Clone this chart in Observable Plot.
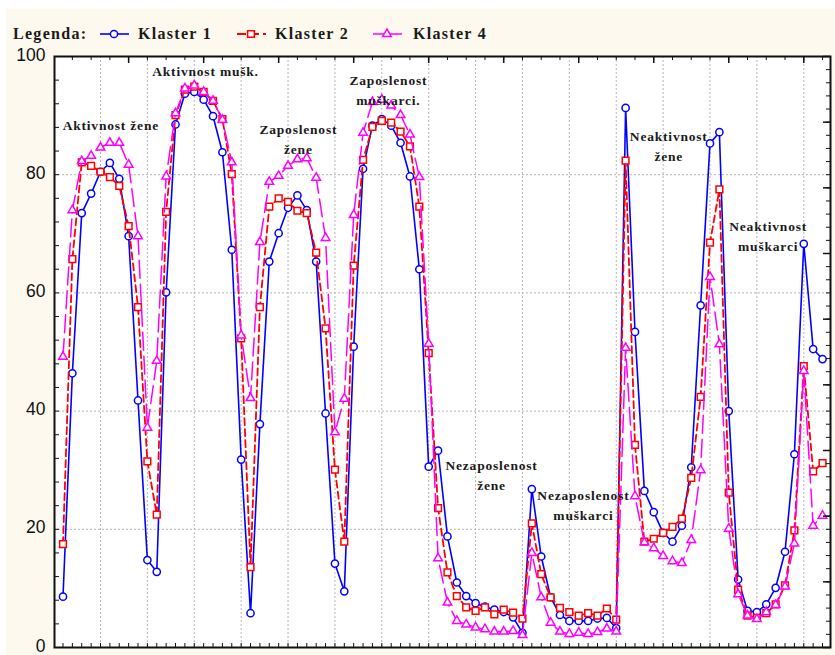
<!DOCTYPE html>
<html><head><meta charset="utf-8">
<script src="https://cdn.jsdelivr.net/npm/d3@7"></script>
<script src="https://cdn.jsdelivr.net/npm/@observablehq/plot@0.6"></script>
<style>
body{margin:0;background:#fff;}
#wrap{position:relative;width:835px;height:655px;overflow:hidden;}
#panel{position:absolute;left:6px;top:9px;width:829px;height:646px;background:#fdf9ee;}
.lg{position:absolute;font-family:"Liberation Serif","Times New Roman",serif;font-weight:bold;font-size:16px;line-height:16px;letter-spacing:1.3px;color:#1a1a1a;white-space:nowrap;}
.sw{position:absolute;}
#chart{position:absolute;left:0;top:45px;}
#chart g[aria-label="text"] text{letter-spacing:0.8px;}
</style></head>
<body>
<div id="wrap">
  <div id="panel"></div>
  <div id="legend"></div>
  <div id="chart"></div>
</div>
<script>
// ---- data ----
const cases = d3.range(1, 83); // case numbers 1..82
const klaster1 = [8.6,46.4,73.5,76.8,80.5,82.0,79.3,69.6,41.8,14.8,
  12.8,60.1,88.5,93.7,94.0,92.7,89.9,83.8,67.3,31.8,
  5.8,37.8,65.3,70.1,74.4,76.5,74.0,65.3,39.6,14.2,
  9.5,50.9,81.0,88.3,89.4,88.3,85.4,79.7,64.0,30.6,
  33.3,18.8,11.0,8.7,7.5,6.9,6.4,6.0,5.1,2.5,
  26.8,15.4,8.5,5.5,4.5,4.5,4.5,4.9,5.0,3.3,
  91.3,53.4,26.5,22.9,19.4,17.9,20.6,30.5,57.9,85.3,
  87.2,40.0,11.5,6.2,6.0,7.3,10.1,16.2,32.7,68.3,
  50.5,48.8];
const klaster2 = [17.5,65.7,82.1,81.5,80.5,79.6,78.1,71.3,57.6,31.5,
  22.5,73.7,90.1,94.4,94.9,94.0,92.5,89.4,80.1,52.3,
  13.6,57.6,74.6,76.0,75.4,73.9,73.5,66.8,54.0,30.1,
  17.9,64.6,82.5,88.1,89.1,88.8,87.3,84.8,74.6,49.8,
  23.6,12.7,8.7,6.8,6.2,6.8,5.6,6.4,5.9,4.9,
  21.0,12.4,8.5,6.7,6.0,5.4,5.8,5.4,6.6,4.7,
  82.4,34.3,17.9,18.4,19.4,20.4,21.8,28.7,42.4,68.5,
  77.5,26.2,9.8,5.4,5.0,5.8,7.3,10.5,19.8,47.6,
  29.8,31.2];
const klaster4 = [49.2,74.0,82.3,83.2,84.6,85.4,85.4,81.7,69.6,37.2,
  48.5,79.7,90.4,94.6,95.1,94.0,92.5,89.3,82.1,52.8,
  42.2,68.6,78.8,79.8,81.5,82.6,82.8,79.5,69.3,36.4,
  42.1,73.2,87.1,92.3,92.7,91.7,90.1,86.8,79.6,51.4,
  15.1,7.6,4.5,3.9,3.4,3.1,2.7,2.7,2.8,2.1,
  16.0,8.5,4.2,2.7,2.3,2.5,2.3,2.6,3.2,2.7,
  50.7,25.6,17.8,16.8,15.5,14.6,14.3,18.2,30.0,62.7,
  51.3,20.1,9.0,5.4,4.8,6.0,7.2,10.3,17.6,46.8,
  20.6,22.3];
const seriesNames = ["Klaster 1", "Klaster 2", "Klaster 4"];
const yTickLabels = [0, 20, 40, 60, 80, 100];
const annotationTexts = ["Aktivnost žene", "Aktivnost mušk.", "Zaposlenost\nžene", "Zaposlenost\nmuškarci.",
  "Nezaposlenost\nžene", "Nezaposlenost\nmuškarci", "Neaktivnost\nžene", "Neaktivnost\nmuškarci"];
const annotationCase = [6.1, 16.2, 26.1, 35.7, 46.7, 56.5, 65.6, 76.2];
const annotationValue = [88.7, 97.8, 86.2, 94.6, 29.4, 24.3, 85.1, 69.8];

// ---- styles ----
const colors = ["#0000ff", "#ff0000", "#ff00ff"];
const symbols = ["circle", "square", "triangle"];
const radii = [3.6, 3.8, 3.2];
const dashes = [null, "7,4", "18,6"];
const legendDashes = [null, "9,4", null];
const widths = [1.6, 1.8, 1.5];

const allSeries = [klaster1, klaster2, klaster4];
const rows = allSeries.map(vals => cases.map((c, i) => ({c, v: vals[i]})));
const annotations = annotationTexts.map((t, i) => ({t, c: annotationCase[i], v: annotationValue[i]}));

const W = 835, H = 610, mL = 54, mR = 5, mT = 11, mB = 8;
const plotW = W - mL - mR, plotH = H - mT - mB;

const seriesMarks = [];
rows.forEach((r, k) => {
  seriesMarks.push(Plot.line(r, {x: "c", y: "v", stroke: colors[k], strokeWidth: widths[k], strokeDasharray: dashes[k]}));
  seriesMarks.push(Plot.dot(r, {x: "c", y: "v", symbol: symbols[k], r: radii[k], stroke: colors[k], strokeWidth: 1.5, fill: "white"}));
});

const gridStyle = {stroke: "#b5b5b5", strokeOpacity: 1, strokeDasharray: "2,2", strokeWidth: 1};

const chart = Plot.plot({
  width: W, height: H, marginLeft: mL, marginRight: mR, marginTop: mT, marginBottom: mB,
  style: {background: "transparent", fontFamily: "'Liberation Sans', Arial, sans-serif", overflow: "visible"},
  x: {type: "linear", domain: [0.094, 82.85], axis: null},
  y: {domain: [0, 100], axis: null},
  marks: [
    Plot.frame({fill: "white"}),
    Plot.gridY([20, 40, 60, 80], gridStyle),
    Plot.gridX(cases.filter(c => c % 5 === 0), gridStyle),
    ...seriesMarks,
    Plot.text(annotations, {x: "c", y: "v", text: "t", fontFamily: "'Liberation Serif', 'Times New Roman', serif",
      fontWeight: "bold", fontSize: 13.5, lineHeight: 20 / 13.5, fill: "#1a1a1a"}),
    Plot.frame({stroke: "#111", strokeWidth: 2}),
    // inward tick marks
    Plot.ruleY(d3.range(0, 101, 4), {stroke: "#111", insetRight: plotW - 5}),
    Plot.ruleY(d3.range(0, 46).map(k => k * 100 / 45), {stroke: "#111", insetLeft: plotW - 4}),
    Plot.ruleY(d3.range(0, 46, 5).map(k => k * 100 / 45), {stroke: "#111", strokeWidth: 1.5, insetLeft: plotW - 7}),
    Plot.ruleX(cases, {stroke: "#111", insetTop: plotH - 4}),
    Plot.ruleX(cases.filter(c => c % 2 === 0), {stroke: "#111", insetBottom: plotH - 4}),
    Plot.ruleX(cases.filter(c => c % 8 === 0), {stroke: "#111", strokeWidth: 1.5, insetBottom: plotH - 7}),
    Plot.axisY(yTickLabels, {tickSize: 0, tickPadding: 9, fontSize: 17.5, dy: -1.5, fill: "#111", label: null,
      fontFamily: "'Liberation Sans', Arial, sans-serif"})
  ]
});
document.getElementById("chart").appendChild(chart);

// ---- legend (HTML, above the SVG) ----
const legend = document.getElementById("legend");
function addText(txt, left) {
  const s = document.createElement("span");
  s.className = "lg"; s.textContent = txt;
  s.style.left = left + "px"; s.style.top = "26px";
  legend.appendChild(s);
}
addText("Legenda:", 13);
const swLeft = [98, 235, 371];
const txtLeft = [138, 275, 413];
seriesNames.forEach((name, k) => {
  const svg = d3.create("svg").attr("class", "sw").attr("width", 34).attr("height", 16)
    .style("left", swLeft[k] + "px").style("top", "26px");
  svg.append("line").attr("x1", 2).attr("x2", 31).attr("y1", 8).attr("y2", 8)
    .attr("stroke", colors[k]).attr("stroke-width", widths[k]).attr("stroke-dasharray", legendDashes[k]);
  const sym = {circle: d3.symbolCircle, square: d3.symbolSquare, triangle: d3.symbolTriangle}[symbols[k]];
  const size = Math.PI * radii[k] * radii[k];
  svg.append("path").attr("d", d3.symbol(sym, size)()).attr("transform", "translate(16,8)")
    .attr("fill", "white").attr("stroke", colors[k]).attr("stroke-width", 1.5);
  legend.appendChild(svg.node());
  addText(name, txtLeft[k]);
});
</script>
</body></html>
